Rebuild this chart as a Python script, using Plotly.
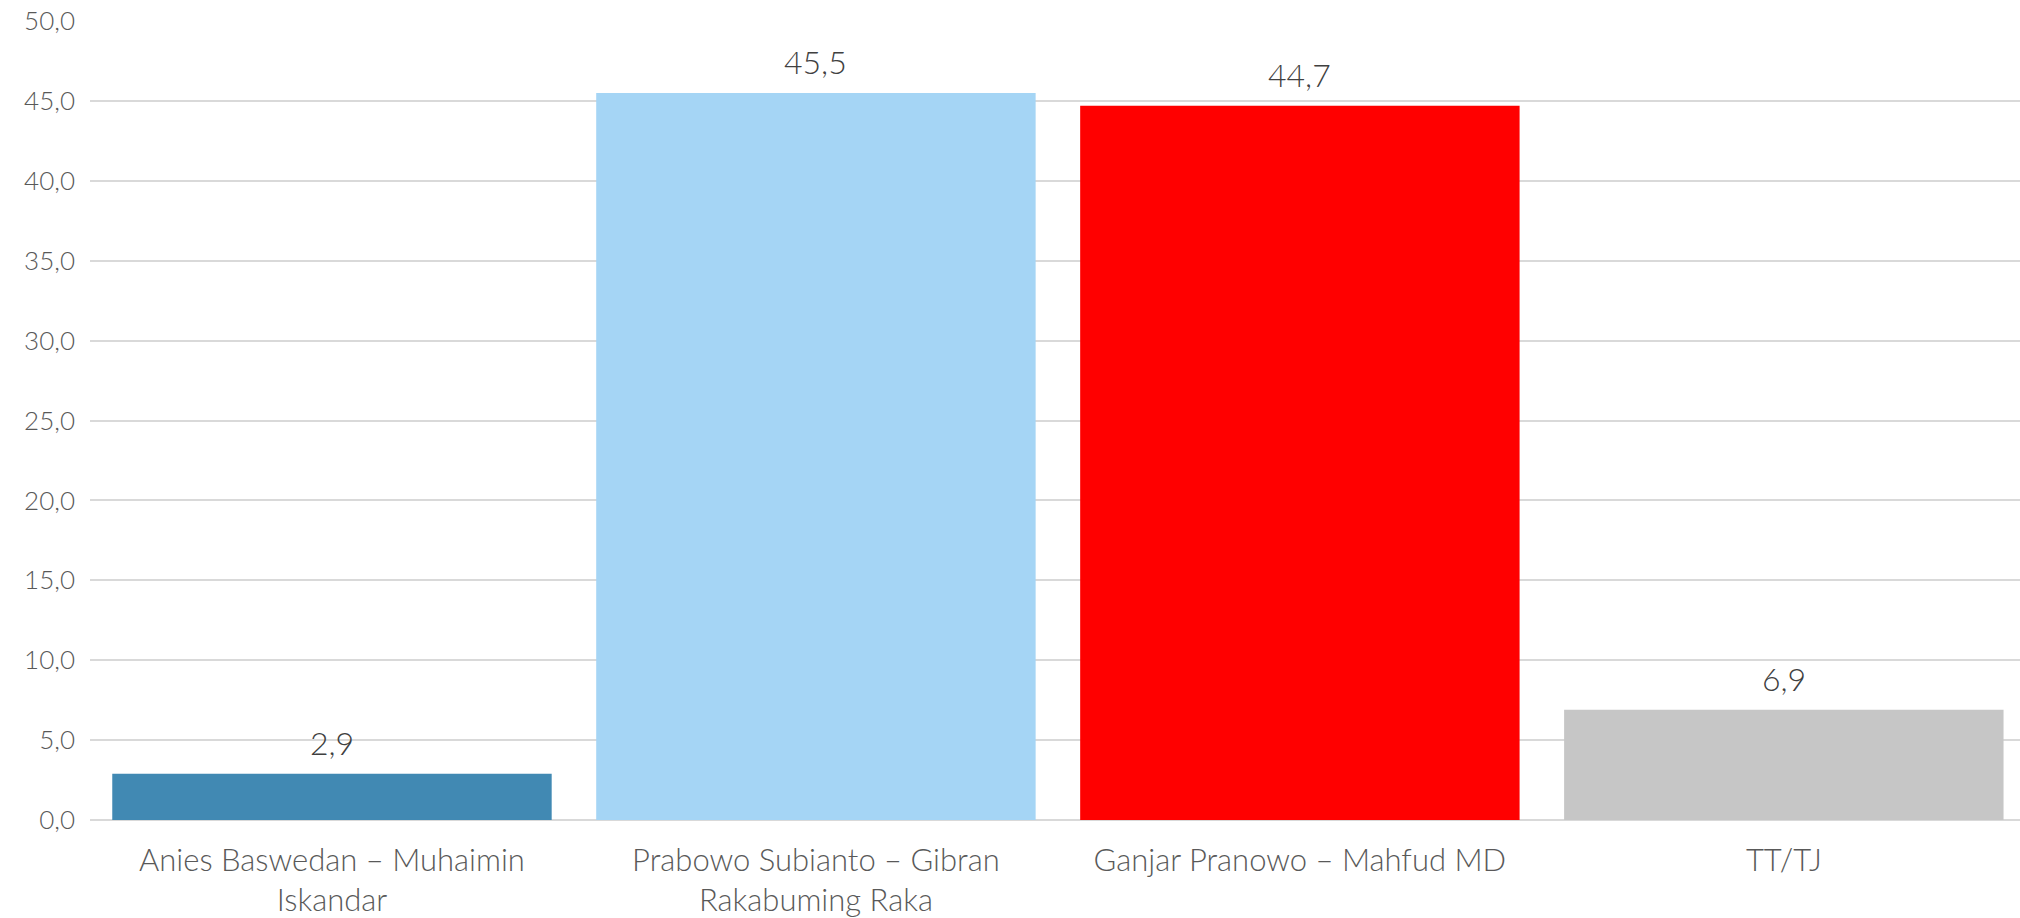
import plotly.graph_objects as go

# Survey result per candidate pair (percent)
categories = [
    "Anies Baswedan – Muhaimin<br>Iskandar",
    "Prabowo Subianto – Gibran<br>Rakabuming Raka",
    "Ganjar Pranowo – Mahfud MD",
    "TT/TJ",
]
values = [2.9, 45.5, 44.7, 6.9]
bar_colors = ["#4189b3", "#a5d5f5", "#ff0000", "#c6c6c6"]
y_ticks = [0, 5, 10, 15, 20, 25, 30, 35, 40, 45, 50]
y_tick_labels = [f"{v:.1f}".replace(".", ",") for v in y_ticks]

FONT = "Lato"

fig = go.Figure(
    go.Bar(
        x=categories,
        y=values,
        marker=dict(color=bar_colors, line=dict(width=0)),
        showlegend=False,
        hoverinfo="skip",
    )
)

# value labels above each bar
for cat, val in zip(categories, values):
    fig.add_annotation(
        x=cat, y=val, yanchor="bottom", yshift=10,
        text=f"{val:.1f}".replace(".", ","),
        showarrow=False,
        font=dict(family=FONT, size=32, color="#404040", weight=300),
    )

fig.update_layout(
    width=2020, height=918,
    margin=dict(l=90, r=0, t=21, b=98),
    paper_bgcolor="white", plot_bgcolor="white",
    bargap=0.092,
    font=dict(family=FONT, color="#595959"),
)
fig.update_yaxes(
    range=[0, 50],
    tickvals=y_ticks, ticktext=y_tick_labels,
    showgrid=True, gridcolor="#d9d9d9", gridwidth=2,
    zeroline=True, zerolinecolor="#d9d9d9", zerolinewidth=2,
    showline=False, ticks="",
    tickfont=dict(family=FONT, size=26, color="#595959", weight=300),
    ticklabelstandoff=14,
    automargin=False,
)
fig.update_xaxes(
    range=[-0.5, 3.488],
    showgrid=False, showline=False, ticks="",
    tickfont=dict(family=FONT, size=31, color="#595959", weight=300),
    ticklabelstandoff=19,
    automargin=False,
)

fig.write_html("out.html")
